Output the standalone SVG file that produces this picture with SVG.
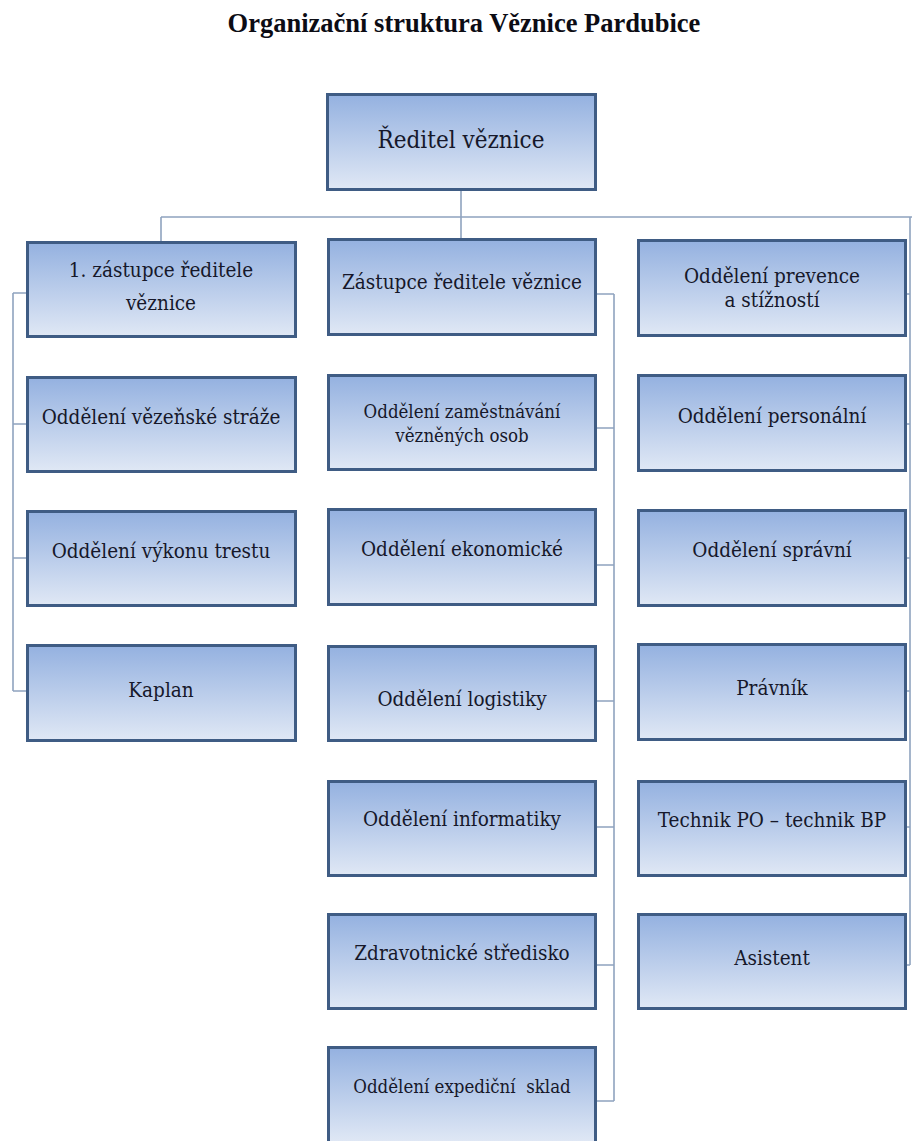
<svg xmlns="http://www.w3.org/2000/svg" width="912" height="1141" viewBox="0 0 912 1141">
<defs>
<linearGradient id="g" x1="0" y1="0" x2="0" y2="1">
<stop offset="0" stop-color="#94b1e0"/>
<stop offset="1" stop-color="#e0e8f5"/>
</linearGradient>
<style>
.box{fill:url(#g);stroke:#3f5c84;stroke-width:3}
.lbl{font-family:'DejaVu Serif Condensed','DejaVu Serif',serif;font-size:20.5px;fill:#16182a;text-anchor:middle}
.sm{font-size:18.5px}
.big{font-size:24px}
.title{font-family:'Liberation Serif',serif;font-size:26.5px;font-weight:bold;fill:#0c0c14;text-anchor:middle}
.c{fill:none;stroke:#8fa3bf;stroke-width:1.6}
</style>
</defs>
<rect width="912" height="1141" fill="#ffffff"/>
<text class="title" x="464" y="32">Organizační struktura Věznice Pardubice</text>

<g id="connectors">
<path class="c" d="M461 191V238M161 217H912M161 217V241M910 217V965"/>
<path class="c" d="M13 293V691M13 293H26M13 424H26M13 558H26M13 691H26"/>
<path class="c" d="M614 294V1101M597 294H614M597 428H614M597 565H614M597 701H614M597 827H614M597 965H614M597 1101H614"/>
<path class="c" d="M907 294H910M907 424H910M907 558H910M907 691H910M907 827H910M907 965H910"/>
</g>

<g id="n_reditel"><rect class="box" x="327.5" y="94.5" width="268" height="95"/><text class="lbl big" x="461" y="148">Ředitel věznice</text></g>

<g id="n_zast1"><rect class="box" x="27.5" y="242.5" width="268" height="94"/><text class="lbl" x="161" y="277">1. zástupce ředitele</text><text class="lbl" x="161" y="310">věznice</text></g>
<g id="n_straze"><rect class="box" x="27.5" y="377.5" width="268" height="94"/><text class="lbl" x="161" y="424">Oddělení vězeňské stráže</text></g>
<g id="n_vykon"><rect class="box" x="27.5" y="511.5" width="268" height="94"/><text class="lbl" x="161" y="558">Oddělení výkonu trestu</text></g>
<g id="n_kaplan"><rect class="box" x="27.5" y="645.5" width="268" height="95"/><text class="lbl" x="161" y="697">Kaplan</text></g>

<g id="n_zast2"><rect class="box" x="328.5" y="239.5" width="267" height="95"/><text class="lbl" x="462" y="289">Zástupce ředitele věznice</text></g>
<g id="n_zamest"><rect class="box" x="328.5" y="375.5" width="267" height="94"/><text class="lbl sm" x="462" y="418">Oddělení zaměstnávání</text><text class="lbl sm" x="462" y="442">vězněných osob</text></g>
<g id="n_ekon"><rect class="box" x="328.5" y="509.5" width="267" height="95"/><text class="lbl" x="462" y="556">Oddělení ekonomické</text></g>
<g id="n_log"><rect class="box" x="328.5" y="646.5" width="267" height="94"/><text class="lbl" x="462" y="706">Oddělení logistiky</text></g>
<g id="n_info"><rect class="box" x="328.5" y="781.5" width="267" height="94"/><text class="lbl" x="462" y="826">Oddělení informatiky</text></g>
<g id="n_zdrav"><rect class="box" x="328.5" y="914.5" width="267" height="94"/><text class="lbl" x="462" y="960">Zdravotnické středisko</text></g>
<g id="n_exped"><rect class="box" x="328.5" y="1047.5" width="267" height="95"/><text class="lbl sm" x="462" y="1093" xml:space="preserve">Oddělení expediční  sklad</text></g>

<g id="n_prev"><rect class="box" x="638.5" y="240.5" width="267" height="95"/><text class="lbl" x="772" y="283">Oddělení prevence</text><text class="lbl" x="772" y="307">a stížností</text></g>
<g id="n_pers"><rect class="box" x="638.5" y="375.5" width="267" height="95"/><text class="lbl" x="772" y="423">Oddělení personální</text></g>
<g id="n_sprav"><rect class="box" x="638.5" y="510.5" width="267" height="95"/><text class="lbl" x="772" y="557">Oddělení správní</text></g>
<g id="n_pravnik"><rect class="box" x="638.5" y="644.5" width="267" height="95"/><text class="lbl" x="772" y="695">Právník</text></g>
<g id="n_technik"><rect class="box" x="638.5" y="781.5" width="267" height="94"/><text class="lbl" x="772" y="827">Technik PO – technik BP</text></g>
<g id="n_asist"><rect class="box" x="638.5" y="914.5" width="267" height="94"/><text class="lbl" x="772" y="965">Asistent</text></g>
</svg>
